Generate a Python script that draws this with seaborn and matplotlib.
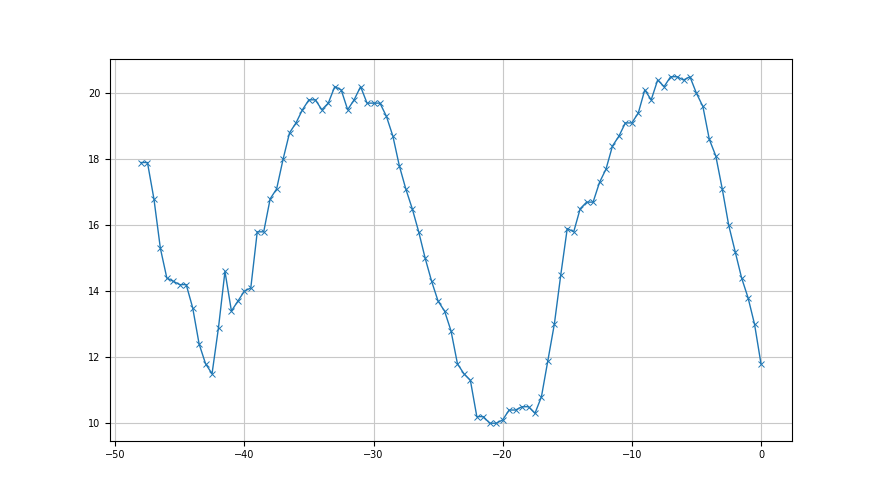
import matplotlib
matplotlib.use("Agg")
import matplotlib.pyplot as plt
import seaborn as sns

# === Data ===
x_vals = [-48.0, -47.5, -47.0, -46.5, -46.0, -45.5, -45.0, -44.5, -44.0, -43.5,
          -43.0, -42.5, -42.0, -41.5, -41.0, -40.5, -40.0, -39.5, -39.0, -38.5,
          -38.0, -37.5, -37.0, -36.5, -36.0, -35.5, -35.0, -34.5, -34.0, -33.5,
          -33.0, -32.5, -32.0, -31.5, -31.0, -30.5, -30.0, -29.5, -29.0, -28.5,
          -28.0, -27.5, -27.0, -26.5, -26.0, -25.5, -25.0, -24.5, -24.0, -23.5,
          -23.0, -22.5, -22.0, -21.5, -21.0, -20.5, -20.0, -19.5, -19.0, -18.5,
          -18.0, -17.5, -17.0, -16.5, -16.0, -15.5, -15.0, -14.5, -14.0, -13.5,
          -13.0, -12.5, -12.0, -11.5, -11.0, -10.5, -10.0, -9.5, -9.0, -8.5,
          -8.0, -7.5, -7.0, -6.5, -6.0, -5.5, -5.0, -4.5, -4.0, -3.5,
          -3.0, -2.5, -2.0, -1.5, -1.0, -0.5, 0.0]
y_vals = [17.9, 17.9, 16.8, 15.3, 14.4, 14.3, 14.2, 14.2, 13.5, 12.4,
          11.8, 11.5, 12.9, 14.6, 13.4, 13.7, 14.0, 14.1, 15.8, 15.8,
          16.8, 17.1, 18.0, 18.8, 19.1, 19.5, 19.8, 19.8, 19.5, 19.7,
          20.2, 20.1, 19.5, 19.8, 20.2, 19.7, 19.7, 19.7, 19.3, 18.7,
          17.8, 17.1, 16.5, 15.8, 15.0, 14.3, 13.7, 13.4, 12.8, 11.8,
          11.5, 11.3, 10.2, 10.2, 10.0, 10.0, 10.1, 10.4, 10.4, 10.5,
          10.5, 10.3, 10.8, 11.9, 13.0, 14.5, 15.9, 15.8, 16.5, 16.7,
          16.7, 17.3, 17.7, 18.4, 18.7, 19.1, 19.1, 19.4, 20.1, 19.8,
          20.4, 20.2, 20.5, 20.5, 20.4, 20.5, 20.0, 19.6, 18.6, 18.1,
          17.1, 16.0, 15.2, 14.4, 13.8, 13.0, 11.8]

# === Plot ===
fig, ax = plt.subplots(figsize=(8.8, 4.95), dpi=100)
sns.lineplot(
    x=x_vals, y=y_vals, ax=ax,
    color="#1f77b4", linewidth=1.0,
    marker="x", markersize=4,
    markeredgecolor="#1f77b4", markeredgewidth=0.7,
)

ax.grid(True, color="#c8c8c8", linewidth=0.8)
ax.set_axisbelow(True)
ax.set_xticks([-50, -40, -30, -20, -10, 0])
ax.set_yticks([10, 12, 14, 16, 18, 20])
ax.tick_params(labelsize=7, length=3.5, width=0.8)
for s in ax.spines.values():
    s.set_linewidth(0.8)

fig.savefig("out.png", dpi=100)
